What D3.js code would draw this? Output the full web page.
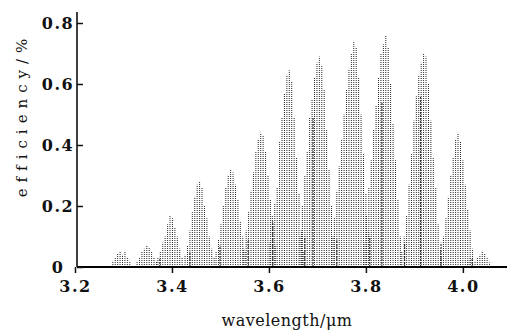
<!DOCTYPE html>
<html>
<head>
<meta charset="utf-8">
<script src="https://cdn.jsdelivr.net/npm/d3@7"></script>
<style>
  body { margin: 0; background: #fff; }
  svg { display: block; }
  .serif { font-family: "DejaVu Serif", "Liberation Serif", serif; }
  .tick text { font-family: "DejaVu Serif", "Liberation Serif", serif; font-weight: bold; font-size: 16px; letter-spacing: 1.5px; fill: #111; }
</style>
</head>
<body>
<div id="chart"></div>
<script>
// tick labels
const xTicks = [3.2, 3.4, 3.6, 3.8, 4.0];
const yTicks = [0, 0.2, 0.4, 0.6, 0.8];

// each band = group of spectral lines, start wavelength (um) + line heights (%), left to right
const lineStep = 0.005;
const bandStart = [3.278, 3.328, 3.371, 3.427, 3.491, 3.548, 3.602, 3.664, 3.730, 3.796, 3.874, 3.955, 4.010];
const bandLines = [
  [0.02, 0.03, 0.045, 0.05, 0.04, 0.05, 0.03, 0.02],
  [0.02, 0.03, 0.05, 0.06, 0.07, 0.065, 0.05, 0.03, 0.02],
  [0.03, 0.05, 0.08, 0.10, 0.14, 0.17, 0.16, 0.13, 0.10, 0.06, 0.03],
  [0.04, 0.07, 0.12, 0.18, 0.23, 0.27, 0.28, 0.26, 0.20, 0.16, 0.10, 0.06, 0.03],
  [0.05, 0.09, 0.14, 0.20, 0.26, 0.30, 0.32, 0.31, 0.27, 0.22, 0.15, 0.10, 0.05],
  [0.06, 0.12, 0.18, 0.25, 0.31, 0.38, 0.42, 0.44, 0.43, 0.38, 0.30, 0.22, 0.14, 0.07],
  [0.08, 0.17, 0.21, 0.26, 0.41, 0.49, 0.57, 0.63, 0.645, 0.61, 0.49, 0.36, 0.24, 0.12, 0.05],
  [0.10, 0.20, 0.30, 0.38, 0.49, 0.55, 0.62, 0.67, 0.69, 0.66, 0.58, 0.45, 0.32, 0.20, 0.10],
  [0.10, 0.16, 0.25, 0.33, 0.42, 0.50, 0.58, 0.65, 0.70, 0.74, 0.72, 0.62, 0.50, 0.37, 0.24, 0.12],
  [0.08, 0.17, 0.26, 0.35, 0.45, 0.53, 0.62, 0.70, 0.73, 0.76, 0.72, 0.60, 0.47, 0.35, 0.22, 0.10],
  [0.05, 0.10, 0.17, 0.27, 0.37, 0.48, 0.56, 0.63, 0.67, 0.70, 0.69, 0.60, 0.48, 0.36, 0.26, 0.14, 0.06],
  [0.04, 0.10, 0.16, 0.23, 0.30, 0.36, 0.42, 0.44, 0.41, 0.35, 0.27, 0.19, 0.12, 0.06],
  [0.02, 0.03, 0.025, 0.02, 0.03, 0.04, 0.05, 0.045, 0.03, 0.015]
];

// darker lines inside the bands
const darkWl  = [3.375, 3.437, 3.499, 3.557, 3.608, 3.674, 3.691, 3.740, 3.808, 3.833, 3.880, 3.913, 3.955, 4.019];
const darkEff = [0.03, 0.05, 0.07, 0.09, 0.15, 0.10, 0.49, 0.09, 0.10, 0.54, 0.08, 0.56, 0.08, 0.03];

const width = 507, height = 334;
const svg = d3.select('#chart').append('svg')
  .attr('width', width).attr('height', height);

const x = d3.scaleLinear().domain([3.2, 4.091]).range([75, 507]);
const y = d3.scaleLinear().domain([0, 0.8]).range([267, 23]);
const x0 = 77;

const lines = bandLines.flatMap((hs, i) => hs.map((h, j) => ({ w: bandStart[i] + j * lineStep, h })));

svg.append('g').selectAll('line')
  .data(lines)
  .join('line')
  .attr('x1', d => x(d.w)).attr('x2', d => x(d.w))
  .attr('y1', y(0)).attr('y2', d => y(d.h))
  .attr('stroke', '#2a2a2a')
  .attr('stroke-width', 1)
  .attr('stroke-dasharray', '1 1');

svg.append('g').selectAll('line')
  .data(darkWl)
  .join('line')
  .attr('x1', d => x(d)).attr('x2', d => x(d))
  .attr('y1', y(0)).attr('y2', (d, i) => y(darkEff[i]))
  .attr('stroke', '#111')
  .attr('stroke-width', 1)
  .attr('stroke-dasharray', '2 1');

// x axis
const xAxis = svg.append('g')
  .attr('transform', `translate(0,${y(0)})`)
  .call(d3.axisBottom(x).tickValues(xTicks).tickFormat(d3.format('.1f')).tickSize(6).tickPadding(5));
xAxis.select('.domain').remove();
xAxis.selectAll('.tick line').attr('stroke', '#111').attr('stroke-width', 1.5);
xAxis.selectAll('.tick text').attr('dy', '0.85em');
svg.append('line')
  .attr('x1', x0).attr('x2', width)
  .attr('y1', y(0)).attr('y2', y(0))
  .attr('stroke', '#000').attr('stroke-width', 2);

// y axis, ticks pointing inward
const yAxis = svg.append('g')
  .attr('transform', `translate(${x0},0)`)
  .call(d3.axisLeft(y).tickValues(yTicks).tickFormat(d => d === 0 ? '0' : d3.format('.1f')(d)).tickSize(-6));
yAxis.select('.domain').remove();
yAxis.selectAll('.tick line').attr('stroke', '#111').attr('stroke-width', 1.5);
yAxis.selectAll('.tick text').attr('x', -19).attr('text-anchor', 'middle');
svg.append('line')
  .attr('x1', x0).attr('x2', x0)
  .attr('y1', 12).attr('y2', y(0))
  .attr('stroke', '#000').attr('stroke-width', 1.5);

// titles
svg.append('text')
  .attr('class', 'serif')
  .attr('transform', 'translate(27,115) rotate(-90)')
  .attr('text-anchor', 'middle')
  .style('font-size', '15px')
  .style('letter-spacing', '6px')
  .attr('fill', '#111')
  .text('efficiency/%');

svg.append('text')
  .attr('class', 'serif')
  .attr('x', 287).attr('y', 326)
  .attr('text-anchor', 'middle')
  .style('font-size', '16px')
  .style('letter-spacing', '0.5px')
  .attr('fill', '#111')
  .text('wavelength/\u03bcm');
</script>
</body>
</html>
